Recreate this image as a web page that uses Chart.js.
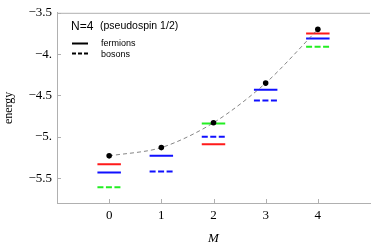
<!DOCTYPE html>
<html>
<head>
<meta charset="utf-8">
<script src="https://cdn.jsdelivr.net/npm/chart.js@4"></script>
<style>
  html, body { margin: 0; padding: 0; background: #fff; }
  #wrap { width: 374px; height: 246px; position: relative; }
</style>
</head>
<body>
<div id="wrap"><canvas id="myChart"></canvas></div>
<script>
// values
const mValues = [0, 1, 2, 3, 4];
const groundEnergy = [-5.23, -5.13, -4.83, -4.35, -3.70];
const fermionsRed = [-5.33, null, -5.09, null, -3.75];
const fermionsBlue = [-5.43, -5.23, null, -4.43, -3.81];
const fermionsGreen = [null, null, -4.84, null, null];
const bosonsBlue = [null, -5.42, -5.00, -4.56, null];
const bosonsGreen = [-5.61, null, null, null, -3.91];
const yTicks = [-3.5, -4, -4.5, -5, -5.5];
const yTickLabels = ["\u22123.5", "\u22124.", "\u22124.5", "\u22125.", "\u22125.5"];
const xTickLabels = ["0", "1", "2", "3", "4"];

const halfWidth = 0.225;

// each level is a short horizontal bar around its M value
function levels(values) {
  const pts = [];
  values.forEach((v, i) => {
    if (v === null) return;
    pts.push({x: mValues[i] - halfWidth, y: v});
    pts.push({x: mValues[i] + halfWidth, y: v});
    pts.push({x: mValues[i] + 0.5, y: null});
  });
  return pts;
}

function levelSet(values, color, dashed) {
  return {
    data: levels(values),
    borderColor: color,
    borderWidth: 2,
    borderDash: dashed ? [6, 2.5] : [],
    borderCapStyle: 'butt',
    pointRadius: 0,
    fill: false,
    spanGaps: false,
    order: 1
  };
}

const serif = "'Liberation Serif', 'Times New Roman', serif";
const sans = "'Liberation Sans', Arial, sans-serif";

const frameAndTicks = {
  id: 'frameAndTicks',
  afterDraw(chart) {
    const ctx = chart.ctx;
    const a = chart.chartArea;
    const xs = chart.scales.x, ys = chart.scales.y;
    ctx.save();
    ctx.strokeStyle = '#b0b0b0';
    ctx.lineWidth = 1;
    ctx.beginPath();
    ctx.moveTo(a.left, a.top + 0.5);
    ctx.lineTo(a.right, a.top + 0.5);
    xs.ticks.forEach(t => {
      const px = Math.round(xs.getPixelForValue(t.value)) + 0.5;
      ctx.moveTo(px, a.bottom);
      ctx.lineTo(px, a.bottom - 4);
    });
    ys.ticks.forEach(t => {
      const py = Math.round(ys.getPixelForValue(t.value)) + 0.5;
      ctx.moveTo(a.left, py);
      ctx.lineTo(a.left + 4, py);
    });
    ctx.stroke();

    // legend
    ctx.fillStyle = '#000';
    ctx.textBaseline = 'alphabetic';
    ctx.font = '12px ' + sans;
    ctx.fillText('N=4', 71, 30);
    ctx.font = '10.5px ' + sans;
    ctx.fillText('(pseudospin 1/2)', 100, 29);
    ctx.strokeStyle = '#000';
    ctx.lineWidth = 2;
    ctx.beginPath();
    ctx.moveTo(72, 43.5);
    ctx.lineTo(88, 43.5);
    ctx.stroke();
    ctx.setLineDash([4, 2]);
    ctx.beginPath();
    ctx.moveTo(72, 53.5);
    ctx.lineTo(88, 53.5);
    ctx.stroke();
    ctx.setLineDash([]);
    ctx.font = '9px ' + sans;
    ctx.fillText('fermions', 101, 46);
    ctx.fillText('bosons', 101, 57);
    ctx.restore();
  }
};

Chart.defaults.color = '#000';

new Chart("myChart", {
  type: "line",
  data: {
    datasets: [
      {
        data: mValues.map((m, i) => ({x: m, y: groundEnergy[i]})),
        borderColor: '#666',
        borderWidth: 0.8,
        borderDash: [4, 3],
        tension: 0.3,
        pointRadius: 2.8,
        pointBackgroundColor: '#000',
        pointBorderWidth: 0,
        fill: false,
        order: 0
      },
      levelSet(fermionsRed, '#ff1a1a', false),
      levelSet(fermionsBlue, '#1010ff', false),
      levelSet(fermionsGreen, '#22ee22', false),
      levelSet(bosonsBlue, '#1010ff', true),
      levelSet(bosonsGreen, '#22ee22', true)
    ]
  },
  options: {
    responsive: true,
    maintainAspectRatio: false,
    animation: false,
    devicePixelRatio: 1,
    layout: {padding: {top: 8, right: 1, left: 0, bottom: 0}},
    plugins: {legend: {display: false}, tooltip: {enabled: false}},
    scales: {
      x: {
        type: 'linear',
        min: -1,
        max: 5,
        afterBuildTicks: s => { s.ticks = mValues.map(v => ({value: v})); },
        afterFit: s => { s.height = 43; },
        ticks: {
          callback: (v, i) => xTickLabels[i],
          font: {family: serif, size: 13},
          padding: 5,
          maxRotation: 0
        },
        grid: {display: false, drawTicks: false},
        border: {display: true, color: '#b0b0b0'},
        title: {
          display: true,
          text: 'M',
          font: {family: serif, size: 13, style: 'italic'},
          padding: {top: 4, bottom: 0}
        }
      },
      y: {
        type: 'linear',
        min: -5.8,
        max: -3.5,
        afterBuildTicks: s => { s.ticks = yTicks.map(v => ({value: v})); },
        afterFit: s => { s.width = 57; },
        ticks: {
          callback: (v, i) => yTickLabels[i],
          font: {family: serif, size: 13},
          padding: 5
        },
        grid: {display: false, drawTicks: false},
        border: {display: true, color: '#b0b0b0'},
        title: {
          display: true,
          text: 'energy',
          font: {family: serif, size: 12},
          padding: {top: 2, bottom: 0}
        }
      }
    }
  },
  plugins: [frameAndTicks]
});
</script>
</body>
</html>
